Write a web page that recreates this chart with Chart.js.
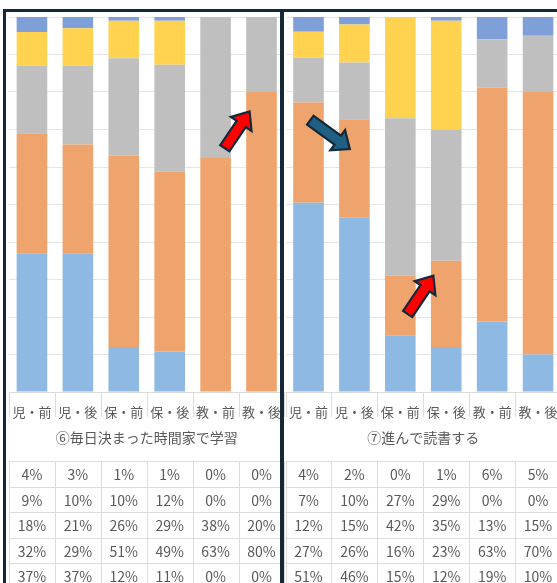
<!DOCTYPE html>
<html lang="ja">
<head>
<meta charset="utf-8">
<script src="https://cdn.jsdelivr.net/npm/chart.js@4.4.1/dist/chart.umd.min.js"></script>
<style>
  html, body { margin: 0; padding: 0; background: #fff; overflow: hidden; }
  #wrap { position: relative; width: 557px; height: 583px; overflow: hidden; }
  canvas { position: absolute; top: 0; }
  #c6 { left: 0; }
  #c7 { left: 285px; }
  .frame { position: absolute; background: #14283a; }
</style>
</head>
<body>
<div id="wrap">
  <canvas id="c6" width="285" height="583"></canvas>
  <canvas id="c7" width="280" height="583"></canvas>
  <div class="frame" style="left:3px;top:9px;width:554px;height:3px"></div>
  <div class="frame" style="left:3px;top:9px;width:3px;height:574px"></div>
  <div class="frame" style="left:280px;top:9px;width:4px;height:574px"></div>
</div>
<script>
const categories = ['児・前', '児・後', '保・前', '保・後', '教・前', '教・後'];

// ⑥ rows listed top segment first, same order as the table under the bars
const studyTitle = '⑥毎日決まった時間家で学習';
const study1 = [4, 3, 1, 1, 0, 0];
const study2 = [9, 10, 10, 12, 0, 0];
const study3 = [18, 21, 26, 29, 38, 20];
const study4 = [32, 29, 51, 49, 63, 80];
const study5 = [37, 37, 12, 11, 0, 0];

// ⑦
const readTitle = '⑦進んで読書する';
const read1 = [4, 2, 0, 1, 6, 5];
const read2 = [7, 10, 27, 29, 0, 0];
const read3 = [12, 15, 42, 35, 13, 15];
const read4 = [27, 26, 16, 23, 63, 70];
const read5 = [51, 46, 15, 12, 19, 10];

const rowColors = ['#7f9fd8', '#ffd34f', '#bfbfbf', '#f0a46d', '#8db9e2'];
const textColor = '#595959';
const font = "'Noto Sans CJK JP', 'Noto Sans', sans-serif";

// draws the label separators, title and value table below the plot, plus arrows
const tablePlugin = {
  id: 'dataTable',
  afterDraw(chart, args, opts) {
    const { ctx, chartArea: a, scales: { x, y } } = chart;
    const rows = opts.rows;
    const n = rows[0].length;
    const cw = (a.right - a.left) / n;
    ctx.save();
    ctx.strokeStyle = '#dcdcdc';
    ctx.lineWidth = 1;

    ctx.beginPath();
    ctx.moveTo(a.left, a.bottom + 0.5);
    ctx.lineTo(a.right, a.bottom + 0.5);
    for (let i = 0; i <= n; i++) {
      const px = Math.round(a.left + i * cw) + 0.5;
      ctx.moveTo(px, a.bottom);
      ctx.lineTo(px, opts.labelBottom);
    }
    ctx.stroke();

    ctx.fillStyle = textColor;
    ctx.textAlign = 'center';
    ctx.textBaseline = 'middle';
    ctx.font = '14px ' + font;
    ctx.fillText(opts.title, (a.left + a.right) / 2, opts.titleY);

    ctx.beginPath();
    for (let r = 0; r <= rows.length; r++) {
      const py = Math.round(opts.tableTop + r * opts.rowH) + 0.5;
      ctx.moveTo(a.left, py);
      ctx.lineTo(a.right, py);
    }
    for (let i = 0; i <= n; i++) {
      const px = Math.round(a.left + i * cw) + 0.5;
      ctx.moveTo(px, opts.tableTop);
      ctx.lineTo(px, opts.tableTop + rows.length * opts.rowH);
    }
    ctx.stroke();

    rows.forEach((row, r) => {
      row.forEach((v, i) => {
        ctx.fillText(v + '%', x.getPixelForValue(i), opts.tableTop + (r + 0.5) * opts.rowH + 1);
      });
    });

    (opts.arrows || []).forEach(ar => {
      const x0 = x.getPixelForValue(ar.from[0]), y0 = y.getPixelForValue(ar.from[1]);
      const x1 = x.getPixelForValue(ar.to[0]), y1 = y.getPixelForValue(ar.to[1]);
      const len = Math.hypot(x1 - x0, y1 - y0);
      const ux = (x1 - x0) / len, uy = (y1 - y0) / len;
      const nx = -uy, ny = ux;
      const sw = 5.5, hw = 12.5, hl = 15;
      const bx = x1 - ux * hl, by = y1 - uy * hl;
      ctx.beginPath();
      ctx.moveTo(x0 + nx * sw, y0 + ny * sw);
      ctx.lineTo(bx + nx * sw, by + ny * sw);
      ctx.lineTo(bx + nx * hw, by + ny * hw);
      ctx.lineTo(x1, y1);
      ctx.lineTo(bx - nx * hw, by - ny * hw);
      ctx.lineTo(bx - nx * sw, by - ny * sw);
      ctx.lineTo(x0 - nx * sw, y0 - ny * sw);
      ctx.closePath();
      ctx.fillStyle = ar.color;
      ctx.fill();
      ctx.lineWidth = 2.2;
      ctx.lineJoin = 'miter';
      ctx.strokeStyle = '#14283a';
      ctx.stroke();
    });
    ctx.restore();
  }
};

function makePanel(id, title, rows, arrows, padLeft, padRight) {
  const totals = categories.map((c, i) => rows.reduce((s, r) => s + r[i], 0));
  // 100% stacked: each bar scaled to its own total, bottom row first
  const datasets = rows.map((row, k) => ({
    label: 'row' + (k + 1),
    data: row.map((v, i) => v / totals[i] * 100),
    backgroundColor: rowColors[k],
    borderWidth: 0,
    barPercentage: 2 / 3,
    categoryPercentage: 1
  })).reverse();

  return new Chart(document.getElementById(id), {
    type: 'bar',
    data: { labels: categories, datasets },
    options: {
      responsive: false,
      animation: false,
      events: [],
      layout: { padding: { top: 17, bottom: 0, left: padLeft, right: padRight } },
      plugins: {
        legend: { display: false },
        tooltip: { enabled: false },
        dataTable: {
          rows, title, arrows,
          labelBottom: 417, titleY: 438, tableTop: 461, rowH: 25.5
        }
      },
      scales: {
        x: {
          stacked: true,
          grid: { display: false },
          border: { display: false },
          ticks: {
            color: textColor,
            font: { family: font, size: 13 },
            padding: 4,
            autoSkip: false,
            maxRotation: 0
          },
          afterFit: s => { s.height = 191; }
        },
        y: {
          stacked: true,
          min: 0,
          max: 100,
          ticks: { display: false, stepSize: 10 },
          grid: { color: '#e6e6e6', drawTicks: false },
          border: { display: false },
          afterFit: s => { s.width = 0; }
        }
      }
    },
    plugins: [tablePlugin]
  });
}

makePanel('c6', studyTitle, [study1, study2, study3, study4, study5],
  [{ from: [4.2, 65], to: [4.74, 74.8], color: '#ff0000' }], 9, 0);
makePanel('c7', readTitle, [read1, read2, read3, read4, read5],
  [{ from: [0.04, 72.5], to: [0.9, 64.8], color: '#1f5f82' },
   { from: [2.16, 20.8], to: [2.72, 31], color: '#ff0000' }], 0, 4);
</script>
</body>
</html>
